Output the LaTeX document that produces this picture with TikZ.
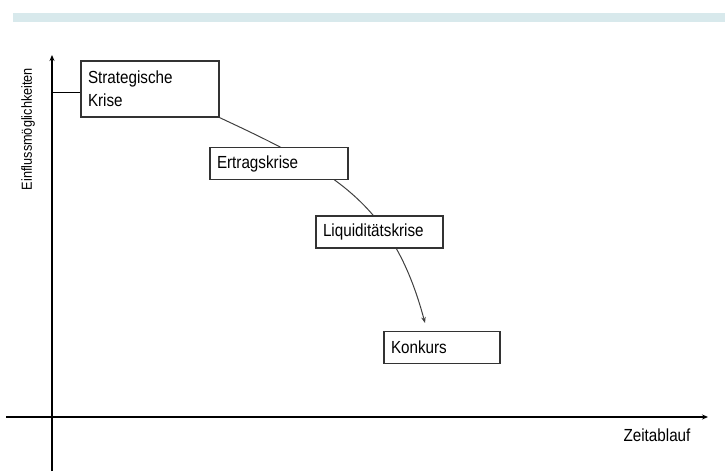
\documentclass[tikz,border=0pt]{standalone}
\usepackage{fontspec}
\setmainfont{Liberation Sans}[FakeStretch=0.87]
\usepackage{tikz}
\usetikzlibrary{positioning, arrows.meta, calc, backgrounds}
\usepackage{xcolor}
\definecolor{barblue}{HTML}{D8E9EC}
\definecolor{boxgray}{HTML}{333333}
\tikzset{
    krisebox/.style={
        rectangle,
        draw=boxgray,
        fill=white,
        line width=1.3pt,
        inner xsep=7pt,
        inner ysep=0pt,
        align=left,
        font=\fontsize{17.5}{23.4}\selectfont
    },
    axis/.style={
        line width=1.3pt,
        -{Stealth[length=6pt,width=5pt]}
    },
    verlauf/.style={
        line width=1pt,
        draw=black!75,
        -{Stealth[length=6pt,width=4.5pt]}
    }
}
\begin{document}
\begin{tikzpicture}[x=1pt, y=-1pt]

      \useasboundingbox (0,0) rectangle (725,471);

      % top bar
      \fill[barblue] (13,13) rectangle (725,22);

      % axes
      \draw[axis] (52,471) -- (52,55);
      \draw[axis] (6,417) -- (708,417);
      \node[rotate=90, font=\fontsize{14.6}{16}\selectfont] (ylab) at (28,129) {Einflussmöglichkeiten};
      \node[font=\fontsize{17.5}{20}\selectfont] (xlab) at (657,435) {Zeitablauf};

      % crisis boxes
      \node[krisebox, text width=124pt, minimum height=56pt] (strat) at (150,89)
        {Strategische\\Krise};

      \foreach \name/\x/\y/\w/\txt in {
          ertrag/279/163.5/138/Ertragskrise,
          liq/379.5/232/127/Liquiditätskrise,
          konk/442/347.5/116/Konkurs}
        {
          \pgfmathsetmacro\tw{\w-14}
          \node[krisebox, text width=\tw pt, minimum height=32pt] (\name) at (\x,\y) {\txt};
        }

      \coordinate (yk) at (52,92.5);
      \coordinate (kend) at (425,323);

      \draw[line width=1.3pt] (yk) -- (yk -| strat.west);

      \begin{pgfonlayer}{background}
        \draw[verlauf] (strat.south east) to[out=-25, in=105, looseness=1.1] (kend);
      \end{pgfonlayer}

    \end{tikzpicture}
\end{document}
